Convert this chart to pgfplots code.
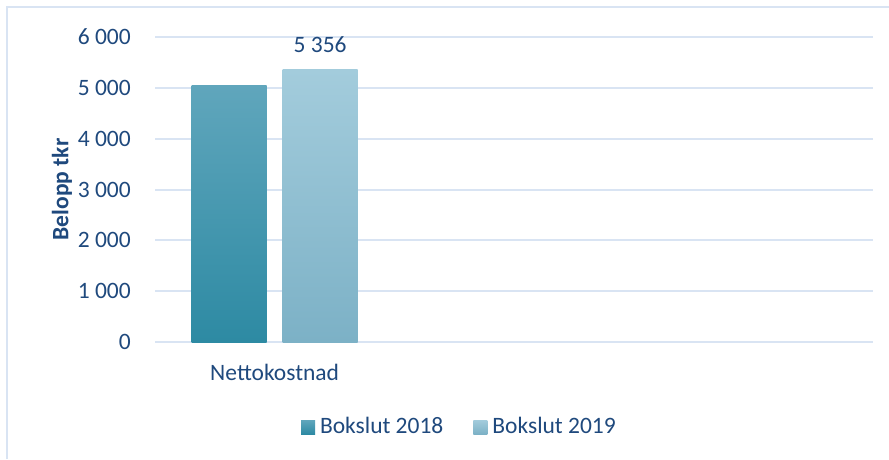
\documentclass[border=0pt]{standalone}
\usepackage{fontspec}
\setmainfont{Carlito}
\usepackage{pgfplots}
\pgfplotsset{compat=1.18}
\definecolor{gridc}{RGB}{217,228,243}
\definecolor{txt}{RGB}{31,73,125}
\definecolor{aTop}{RGB}{96,166,188}
\definecolor{aMid}{RGB}{63,158,184}
\definecolor{aBot}{RGB}{45,138,163}
\definecolor{bTop}{RGB}{163,204,220}
\definecolor{bMid}{RGB}{143,194,214}
\definecolor{bBot}{RGB}{124,177,198}
\begin{document}
\fontsize{23.5}{28}\selectfont
\begin{tikzpicture}[x=1pt,y=1pt,font=\fontsize{23.5}{28}\selectfont]
\path[use as bounding box] (0,0) rectangle (889,459);
\draw[gridc, line width=2pt] (7,0) -- (7,452) -- (889,452);
\begin{axis}[
  at={(155pt,117pt)}, anchor=south west,
  scale only axis, width=718pt, height=305pt,
  xmin=-0.5, xmax=2.5, ymin=0, ymax=6000,
  axis line style={draw=none},
  major tick length=0pt,
  ymajorgrids, grid style={gridc, line width=2pt},
  ytick={0,1000,2000,3000,4000,5000,6000},
  yticklabels={0,1 000,2 000,3 000,4 000,5 000,6 000},
  yticklabel style={inner sep=0pt, anchor=east, xshift=-24pt, text=txt},
  xtick={0}, xticklabels={Nettokostnad},
  xticklabel style={inner sep=0pt, anchor=north, yshift=-22pt, text=txt},
  ylabel={\textbf{Belopp tkr}},
  every axis y label/.style={at={(axis description cs:-0.1295,0.5)}, rotate=90, anchor=center, text=txt},
  ybar=16pt, bar width=75pt,
  legend style={at={(axis description cs:0.424,-0.279)}, anchor=center, draw=none, legend columns=2,
    text=txt, /tikz/every even column/.append style={column sep=28pt}},
  clip=false,
]
\addplot[draw=none, top color=aTop, middle color=aMid, bottom color=aBot,
  legend image code/.code={\shade[top color=aTop, bottom color=aBot] (0pt,-7pt) rectangle (14pt,7pt);}]
  coordinates {(0,5050)};
\addlegendentry{\hspace{3pt}Bokslut 2018}
\addplot[draw=none, top color=bTop, middle color=bMid, bottom color=bBot,
  nodes near coords, point meta=explicit symbolic,
  every node near coord/.append style={text=txt, yshift=9pt},
  legend image code/.code={\shade[top color=bTop, bottom color=bBot] (0pt,-7pt) rectangle (14pt,7pt);}]
  coordinates {(0,5356) [5 356]};
\addlegendentry{\hspace{3pt}Bokslut 2019}
\end{axis}
\end{tikzpicture}
\end{document}
